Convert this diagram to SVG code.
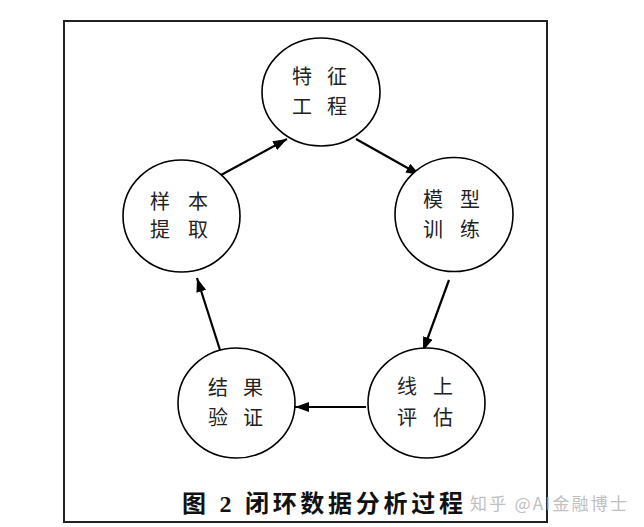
<svg xmlns="http://www.w3.org/2000/svg" width="644" height="527" viewBox="0 0 644 527">
<style>
.node ellipse{fill:#fff;stroke:#000;stroke-width:1.6}
.node text{font-family:"Liberation Serif","Noto Sans CJK SC",serif;font-size:20px;fill:#222;text-anchor:middle}
.edge{stroke:#000;stroke-width:2.2;fill:none;marker-end:url(#arr)}
.cap{font-family:"Liberation Serif","Noto Sans CJK SC",serif;font-size:24px;font-weight:bold;fill:#111}
.wm{font-family:"Noto Sans CJK SC",sans-serif;font-size:17px;fill:#aaa;opacity:0.75}
</style>
<defs>
<marker id="arr" viewBox="0 0 14 10" refX="14" refY="5" markerWidth="14" markerHeight="10" markerUnits="userSpaceOnUse" orient="auto">
<path d="M0,0 L14,5 L0,10 Z" fill="#000"/>
</marker>
</defs>
<rect width="644" height="527" fill="#fff"/>
<rect x="64" y="21" width="483" height="501" fill="none" stroke="#222" stroke-width="2"/>
<g id="connectors">
<line class="edge" x1="221" y1="175" x2="287" y2="139"/>
<line class="edge" x1="356" y1="139" x2="420" y2="175"/>
<line class="edge" x1="449" y1="280" x2="423" y2="351"/>
<line class="edge" x1="366" y1="407" x2="295" y2="407"/>
<line class="edge" x1="220" y1="350" x2="197" y2="278"/>
</g>
<g id="n1" class="node">
<ellipse cx="321" cy="92" rx="59" ry="54"/>
<text x="302 337" y="84">特征</text>
<text x="302 337" y="114">工程</text>
</g>
<g id="n2" class="node">
<ellipse cx="454" cy="214.5" rx="59" ry="57"/>
<text x="433 470" y="207">模型</text>
<text x="433 470" y="237">训练</text>
</g>
<g id="n3" class="node">
<ellipse cx="426.5" cy="403" rx="58.5" ry="55"/>
<text x="407 443" y="394">线上</text>
<text x="407 443" y="425">评估</text>
</g>
<g id="n4" class="node">
<ellipse cx="236.5" cy="403" rx="58.5" ry="55"/>
<text x="218 253" y="395">结果</text>
<text x="218 253" y="425">验证</text>
</g>
<g id="n5" class="node">
<ellipse cx="181.5" cy="216" rx="58.5" ry="56"/>
<text x="160 198" y="209">样本</text>
<text x="160 198" y="237">提取</text>
</g>
<text class="cap" x="182" y="512" textLength="281" lengthAdjust="spacing">图 2 闭环数据分析过程</text>
<text class="wm" x="470" y="510" textLength="157" lengthAdjust="spacing">知乎 @AI金融博士</text>
</svg>
